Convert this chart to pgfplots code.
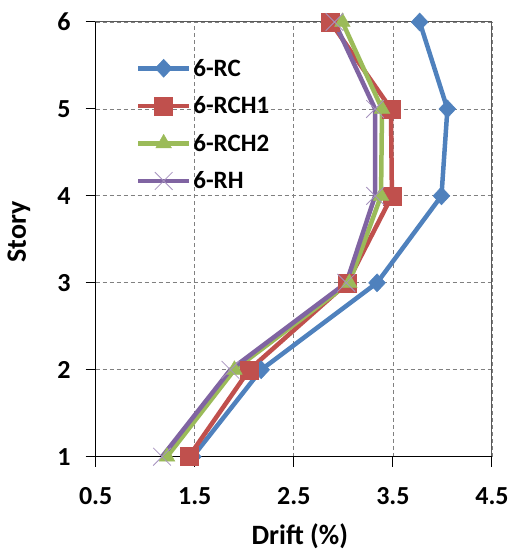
\documentclass[border=0pt]{standalone}
\usepackage{fontspec}
\setmainfont{Carlito}
\usepackage{pgfplots}
\pgfplotsset{compat=1.18}
\definecolor{cRC}{HTML}{4F81BD}
\definecolor{cRCH1}{HTML}{C0504D}
\definecolor{cRCH2}{HTML}{9BBB59}
\definecolor{cRH}{HTML}{8064A2}
\begin{document}
\begin{tikzpicture}
\begin{axis}[
  scale only axis, width=396.3pt, height=434.7pt,
  xmin=0.5, xmax=4.5, ymin=1, ymax=6,
  xtick={0.5,1.5,2.5,3.5,4.5}, ytick={1,2,3,4,5,6},
  xticklabels={0.5,1.5,2.5,3.5,4.5},
  xtick pos=bottom, ytick pos=left,
  tick align=outside, major tick length=10pt,
  grid=major, grid style={dash pattern=on 4pt off 3pt, gray, line width=0.8pt},
  axis line style={draw=black!65, line width=1pt},
  tick style={black, line width=1pt},
  clip=false,
  /pgf/number format/assume math mode=true,
  ticklabel style={font=\fontsize{26}{30}\selectfont\bfseries, inner sep=0pt},
  yticklabel style={anchor=east, xshift=-15pt},
  xticklabel style={anchor=north, yshift=-21pt},
  xlabel={Drift (\%)}, ylabel={Story},
  label style={font=\fontsize{28}{32}\selectfont\bfseries, inner sep=0pt},
  xlabel style={at={(axis description cs:0.515,-0.184)}, anchor=center},
  ylabel style={at={(axis description cs:-0.1935,0.517)}, anchor=center},
  legend style={at={(axis description cs:0.101,0.92)}, anchor=north west,
    draw=none, fill=none, inner sep=0pt, row sep=15pt,
    font=\fontsize{25}{30}\selectfont\bfseries,
    nodes={inner sep=2pt}},
  legend cell align=left,
  legend image code/.code={\draw[mark repeat=2,mark phase=2] plot coordinates {(0pt,0pt) (25.5pt,0pt) (51pt,0pt)};},
  every axis plot/.append style={line width=4.5pt},
]
\addplot[cRC, mark=diamond*, mark size=9pt, mark options={solid, xscale=1.25, line width=0.5pt, fill=cRC}]
  coordinates {(1.48,1) (2.17,2) (3.34,3) (3.99,4) (4.05,5) (3.77,6)};
\addlegendentry{6-RC}
\addplot[cRCH1, mark=square*, mark size=9pt, mark options={solid, line width=0.5pt, fill=cRCH1}]
  coordinates {(1.44,1) (2.05,2) (3.04,3) (3.49,4) (3.48,5) (2.87,6)};
\addlegendentry{6-RCH1}
\addplot[cRCH2, mark=triangle*, mark size=9pt, mark options={solid, line width=0.5pt, fill=cRCH2}]
  coordinates {(1.22,1) (1.90,2) (3.06,3) (3.38,4) (3.39,5) (2.99,6)};
\addlegendentry{6-RCH2}
\addplot[cRH, mark=x, mark size=12.5pt, mark options={solid, line width=0.8pt, draw=cRH!70}]
  coordinates {(1.17,1) (1.86,2) (3.03,3) (3.32,4) (3.32,5) (2.91,6)};
\addlegendentry{6-RH}
\draw[black, line width=1pt] (rel axis cs:0,1) -- (rel axis cs:0,0) -- (rel axis cs:1,0);
\end{axis}
\pgfresetboundingbox
\path ([xshift=-95.7pt,yshift=-97.3pt]current axis.south west) rectangle ([xshift=19pt,yshift=22pt]current axis.north east);
\end{tikzpicture}
\end{document}
